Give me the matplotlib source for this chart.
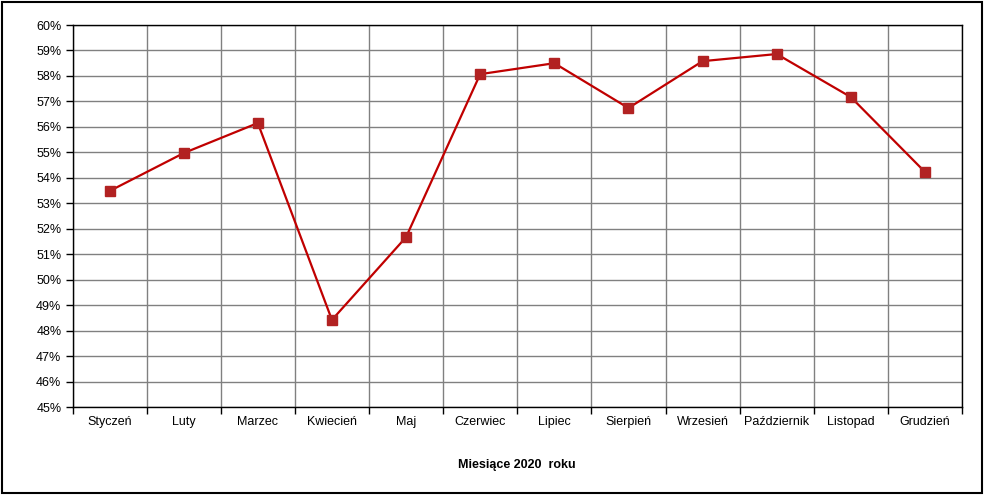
import matplotlib
matplotlib.use("Agg")
import matplotlib.pyplot as plt
from matplotlib.patches import Rectangle
from matplotlib.ticker import FixedLocator, FuncFormatter
import numpy as np

months = ["Styczeń", "Luty", "Marzec", "Kwiecień", "Maj", "Czerwiec", "Lipiec",
          "Sierpień", "Wrzesień", "Październik", "Listopad", "Grudzień"]
values = [53.48, 54.97, 56.15, 48.42, 51.67, 58.07, 58.50, 56.74, 58.58, 58.86, 57.17, 54.23]
y_ticks = list(range(45, 61))
x_label = "Miesiące 2020  roku"

plt.rcParams['font.family'] = ['Liberation Sans', 'DejaVu Sans']

fig = plt.figure(figsize=(9.85, 5.0), dpi=100)
ax = fig.add_axes([72.5/985, 1-407/500, (962-72.5)/985, (407-25)/500])

x = np.arange(len(months))
ax.plot(x, values, color="#C00000", lw=1.6, marker="s", markersize=7,
        markerfacecolor="#B22222", markeredgecolor="#B22222", zorder=3)

ax.set_xlim(-0.5, len(months)-0.5)
ax.set_ylim(45, 60)

ax.set_yticks(y_ticks)
ax.yaxis.set_major_formatter(FuncFormatter(lambda v, p: f"{int(v)}%"))
ax.set_xticks(x)
ax.set_xticklabels(months)
ax.tick_params(axis='x', which='major', length=0, pad=6.5, labelsize=9)
ax.xaxis.set_minor_locator(FixedLocator(np.arange(-0.5, len(months), 1.0)))
ax.tick_params(axis='x', which='minor', length=5, width=1, direction='out')
ax.tick_params(axis='y', length=5, width=1, direction='out', labelsize=9, pad=3)

ax.grid(True, axis='y', which='major', color="#808080", lw=1)
ax.grid(True, axis='x', which='minor', color="#808080", lw=1)
ax.grid(False, axis='x', which='major')
ax.set_axisbelow(True)

for s in ax.spines.values():
    s.set_color("black")
    s.set_linewidth(1)

ax.set_xlabel(x_label, fontsize=9, fontweight='bold', labelpad=22)

fig.patches.append(Rectangle((1.5/985, 1-493/500), 980/985, 491.5/500,
                             transform=fig.transFigure, fill=False,
                             edgecolor="black", lw=1.5))

fig.savefig("out.png", dpi=100)
